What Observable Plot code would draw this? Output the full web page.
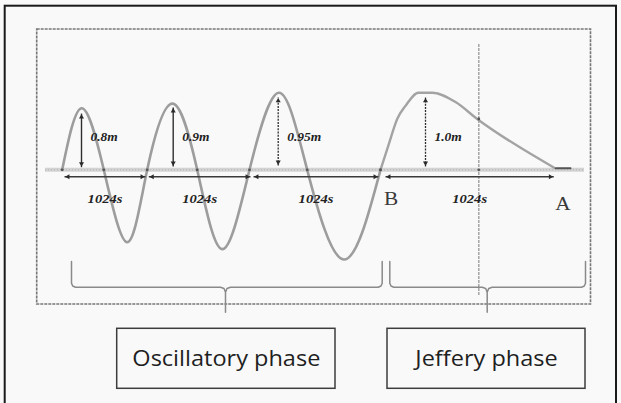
<!DOCTYPE html>
<html><head><meta charset="utf-8">
<script src="https://cdn.jsdelivr.net/npm/d3@7"></script>
<script src="https://cdn.jsdelivr.net/npm/@observablehq/plot@0.6"></script>
<style>html,body{margin:0;padding:0;background:#f9f9f9}</style>
</head><body><div id="chart"></div>
<script>
// ---- data (x: horizontal figure units, y: displacement in m) ----
const oscX = [61.7, 81, 103.3, 126.7, 146.7, 171.7, 196.7, 221.7, 249, 278.3, 306.7, 343.3, 380];
const oscY = [0, 0.80, 0, -0.94, 0, 0.86, 0, -1.03, 0, 1.0, 0, -1.165, 0];
const jefX = [380, 388, 396.7, 405, 418, 432, 455, 476.7, 553.3];
const jefY = [0, 0.32, 0.66, 0.83, 1.0, 1.0, 0.88, 0.66, 0.03];
const tailX = [555, 570];
const tailY = [0.02, 0.02];

const ampLabels = ["0.8m", "0.9m", "0.95m", "1.0m"];
const ampX = [81, 172.7, 277.7, 425];
const ampTop = [0.73, 0.81, 0.94, 0.94];
const ampBottom = [0.034, 0.043, 0.056, 0.043];

const durLabels = ["1024s", "1024s", "1024s", "1024s"];
const durStart = [64, 148.3, 253, 385];
const durEnd = [145, 250, 378, 553.3];

const pointLabels = ["B", "A"];
const pointX = [390.5, 562.5];
const pointY = [-0.377, -0.44];

const phaseLabels = ["Oscillatory phase", "Jeffery phase"];
const phaseStart = [116.7, 387];
const phaseEnd = [335, 585];
const braceStart = [71, 389.3];
const braceEnd = [381.7, 585];
const braceTip = [225, 486.7];

// ---- layout ----
const W = 621, H = 403;
const pxPerM = 77, axisPx = 169.3;
const px = p => p / pxPerM;            // pixel length -> m
const dimY = -0.09;

const osc = oscX.map((x, i) => ({x, y: oscY[i]}));
const jef = jefX.map((x, i) => ({x, y: jefY[i]}));
const tail = tailX.map((x, i) => ({x, y: tailY[i]}));
const amps = ampLabels.map((label, i) => ({label, x: ampX[i], top: ampTop[i], bottom: ampBottom[i], dotted: i >= 2}));
const durs = durLabels.map((label, i) => ({label, x1: durStart[i], x2: durEnd[i], xm: (durStart[i] + durEnd[i]) / 2}));
const pts = pointLabels.map((label, i) => ({label, x: pointX[i], y: pointY[i]}));
const phases = phaseLabels.map((label, i) => ({label, x1: phaseStart[i], x2: phaseEnd[i], xm: (phaseStart[i] + phaseEnd[i]) / 2}));
const crossings = [...osc, ...jef].filter(d => d.y === 0).concat([{x: 478.3, y: 0}, {x: 478.3, y: 0.66}]);

const yTop = -1.191, yMid = -1.525, yTip = -1.849;
const braces = [];
braceStart.forEach((x1, i) => {
  const x2 = braceEnd[i], xm = braceTip[i];
  const seq = [
    [x1, yTop], [x1, yMid + px(4)], [x1 + 1.2, yMid + px(1.2)], [x1 + 4, yMid],
    [xm - 5, yMid], [xm - 1.5, yMid - px(1.2)], [xm, yMid - px(5)], [xm, yTip],
    [xm, yMid - px(5)], [xm + 1.5, yMid - px(1.2)], [xm + 5, yMid],
    [x2 - 4, yMid], [x2 - 1.2, yMid + px(1.2)], [x2, yMid + px(4)], [x2, yTop]
  ];
  seq.forEach(([x, y]) => braces.push({brace: i, x, y}));
});

const chart = Plot.plot({
  width: W, height: H, margin: 0,
  x: {domain: [0, W], range: [0, W], axis: null},
  y: {domain: [-(H - axisPx) / pxPerM, axisPx / pxPerM], range: [H, 0], axis: null},
  style: {background: "#f9f9f9"},
  marks: [
    // outer frame and inner plot frame
    Plot.rect([{}], {x1: 4.7, x2: 616, y1: px(axisPx - 5.7), y2: -3.3, fill: "none", stroke: "#1a1a1a", strokeWidth: 2}),
    Plot.rect([{}], {x1: 36.7, x2: 590.5, y1: px(axisPx - 29), y2: px(axisPx - 304), fill: "none", stroke: "#777", strokeWidth: 1.6, strokeDasharray: "3,1"}),
    // vertical guide line
    Plot.ruleX([478.3], {y1: px(axisPx - 44), y2: px(axisPx - 295), stroke: "#a5a5a5", strokeWidth: 1.5, strokeDasharray: "3,1"}),
    // zero axis
    Plot.ruleY([0], {x1: 45, x2: 584, stroke: "#d3d3d3", strokeWidth: 4}),
    Plot.ruleY([0], {x1: 45, x2: 584, stroke: "#b3b3b3", strokeWidth: 1, strokeDasharray: "1,2"}),
    // curve
    Plot.line(osc, {x: "x", y: "y", curve: "natural", stroke: "#9d9d9d", strokeWidth: 2.6}),
    Plot.line(jef, {x: "x", y: "y", curve: "monotone-x", stroke: "#a3a3a3", strokeWidth: 2.4}),
    Plot.line(tail, {x: "x", y: "y", stroke: "#555", strokeWidth: 2}),
    Plot.dot(crossings, {x: "x", y: "y", r: 1.4, fill: "#555"}),
    // duration dimension arrows
    Plot.link(durs, {x1: "x1", x2: "x2", y1: dimY, y2: dimY, stroke: "#3a3a3a", strokeWidth: 1.5}),
    Plot.dot(durs, {x: "x1", y: dimY, symbol: "triangle2", r: 2.4, rotate: -90, dx: 3.5, fill: "#2a2a2a"}),
    Plot.dot(durs, {x: "x2", y: dimY, symbol: "triangle2", r: 2.4, rotate: 90, dx: -3.5, fill: "#2a2a2a"}),
    Plot.text(durs, {x: "xm", y: px(axisPx - 198.3), text: "label", fontFamily: "Liberation Serif", fontStyle: "italic", fontWeight: "bold", fontSize: 13, fill: "#222"}),
    // amplitude arrows
    Plot.link(amps, {filter: d => !d.dotted, x1: "x", x2: "x", y1: "bottom", y2: "top", stroke: "#2e2e2e", strokeWidth: 1.4}),
    Plot.link(amps, {filter: d => d.dotted, x1: "x", x2: "x", y1: "bottom", y2: "top", stroke: "#2e2e2e", strokeWidth: 1.3, strokeDasharray: "2,1.2"}),
    Plot.dot(amps, {x: "x", y: "top", symbol: "triangle2", r: 2.4, rotate: 0, dy: 3.5, fill: "#2a2a2a"}),
    Plot.dot(amps, {x: "x", y: "bottom", symbol: "triangle2", r: 2.4, rotate: 180, dy: -3.5, fill: "#2a2a2a"}),
    Plot.text(amps, {x: "x", y: px(axisPx - 136.7), dx: 9, text: "label", textAnchor: "start", fontFamily: "Liberation Serif", fontStyle: "italic", fontWeight: "bold", fontSize: 12, fill: "#222"}),
    // point labels
    Plot.text(pts, {x: "x", y: "y", text: "label", fontFamily: "Liberation Serif", fontSize: 19, fill: "#3a3a3a"}),
    // braces
    Plot.line(braces, {x: "x", y: "y", z: "brace", stroke: "#8a8a8a", strokeWidth: 1.5}),
    // phase boxes
    Plot.rect(phases, {x1: "x1", x2: "x2", y1: px(axisPx - 328.3), y2: px(axisPx - 388.3), fill: "none", stroke: "#3d3d3d", strokeWidth: 1.5}),
    Plot.text(phases, {x: "xm", y: px(axisPx - 358.3), text: "label", fontFamily: "Open Sans", fontSize: 21, fill: "#1f1f1f"})
  ]
});
document.getElementById("chart").appendChild(chart);
// the picture is slightly stretched horizontally: widen all texts accordingly
chart.querySelectorAll("text").forEach(t => {
  const L = t.getComputedTextLength();
  if (L > 0) { t.setAttribute("textLength", L * 1.12); t.setAttribute("lengthAdjust", "spacingAndGlyphs"); }
});
</script>
</body></html>
